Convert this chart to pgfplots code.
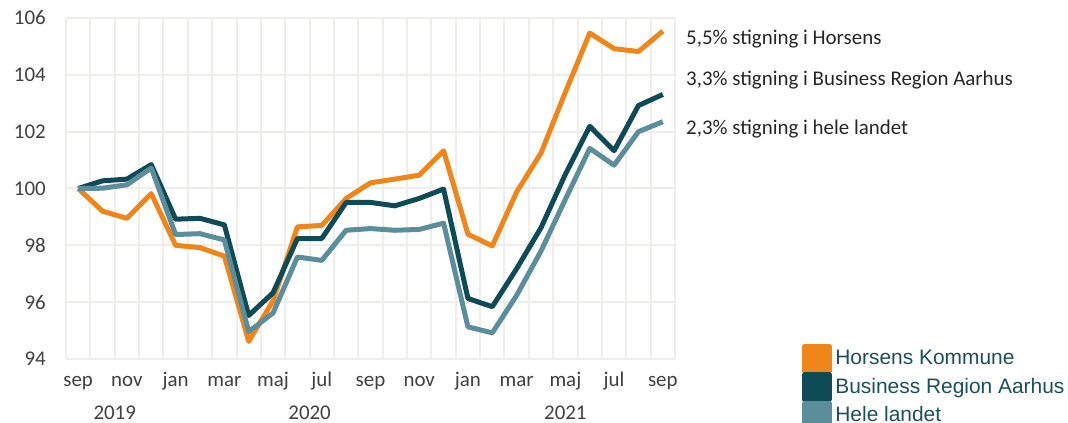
\documentclass[border=0pt]{standalone}
\usepackage{fontspec}
\setmainfont{Carlito}
\newfontfamily\legendfont{Liberation Sans}
\usepackage{pgfplots}
\pgfplotsset{compat=1.18}
\usetikzlibrary{calc}
\definecolor{horsens}{HTML}{F0861A}
\definecolor{bra}{HTML}{0F4A57}
\definecolor{hele}{HTML}{5B8E9A}
\definecolor{gridc}{HTML}{EFEEEA}
\definecolor{legtext}{HTML}{1C4F5C}
\definecolor{lab}{HTML}{404040}
\definecolor{ann}{HTML}{262626}
\begin{document}
\begin{tikzpicture}
\begin{axis}[
 scale only axis, width=609bp, height=341bp,
 xmin=-0.5, xmax=24.5, ymin=94, ymax=106,
 ytick={94,96,...,106},
 xtick={0,2,...,24},
 xticklabels={sep,nov,jan,mar,maj,jul,sep,nov,jan,mar,maj,jul,sep},
 minor xtick={-0.5,0.5,...,24.5},
 xminorgrids=true, xmajorgrids=false, ymajorgrids=true,
 grid style={draw=gridc, line width=2bp},
 minor grid style={draw=gridc, line width=2bp},
 major grid style={draw=gridc, line width=2bp},
 axis line style={draw=none},
 major tick length=0pt, minor tick length=0pt,
 tick style={draw=none},
 /pgf/number format/assume math mode=true,
 ticklabel style={font=\fontsize{21}{21}\selectfont, text=lab, inner sep=0pt},
 xticklabel style={anchor=base, yshift=-27bp},
 yticklabel style={anchor=east, xshift=-20bp},
 clip=false,
 legend style={at={(axis description cs:1.2090,0.0440)}, anchor=north west,
   draw=none, fill=none, inner sep=0pt, outer sep=0pt,
   font=\legendfont\fontsize{21}{21}\selectfont, text=legtext,
   row sep=-1.3bp, column sep=3.7bp,
   nodes={inner sep=0pt, text height=15bp, text depth=3bp}},
 legend cell align=left,
 legend image code/.code={\fill[#1] (0bp,-12.3bp) rectangle (24.4bp,12.3bp);},
]
\addplot[horsens, line width=5bp, line join=round] coordinates {
(0,100) (1,99.2) (2,98.95) (3,99.82) (4,98.0) (5,97.92) (6,97.62) (7,94.62) (8,96.05) (9,98.65) (10,98.7) (11,99.65) (12,100.2) (13,100.33) (14,100.47) (15,101.33) (16,98.39) (17,97.98) (18,99.88) (19,101.25) (20,103.39) (21,105.47) (22,104.92) (23,104.82) (24,105.54)};
\addlegendentry{Horsens Kommune}
\addplot[bra, line width=5bp, line join=round] coordinates {
(0,100) (1,100.27) (2,100.33) (3,100.84) (4,98.92) (5,98.95) (6,98.72) (7,95.53) (8,96.33) (9,98.24) (10,98.24) (11,99.51) (12,99.51) (13,99.39) (14,99.65) (15,99.98) (16,96.13) (17,95.84) (18,97.18) (19,98.62) (20,100.5) (21,102.19) (22,101.33) (23,102.92) (24,103.31)};
\addlegendentry{Business Region Aarhus}
\addplot[hele, line width=5bp, line join=round] coordinates {
(0,100) (1,100.01) (2,100.13) (3,100.72) (4,98.38) (5,98.41) (6,98.19) (7,94.96) (8,95.62) (9,97.59) (10,97.47) (11,98.53) (12,98.59) (13,98.53) (14,98.56) (15,98.78) (16,95.13) (17,94.92) (18,96.24) (19,97.8) (20,99.62) (21,101.41) (22,100.82) (23,102.0) (24,102.35)};
\addlegendentry{Hele landet}
\coordinate (bl) at (rel axis cs:0,0);
\begin{scope}[every node/.style={font=\fontsize{21}{21}\selectfont, text=lab, inner sep=0pt}]
\node[anchor=base] at (axis cs:1.5,94) [yshift=-60bp] {2019};
\node[anchor=base] at (axis cs:9.5,94) [yshift=-60bp] {2020};
\node[anchor=base] at (axis cs:20,94) [yshift=-60bp] {2021};
\end{scope}
\begin{scope}[every node/.style={font=\fontsize{21}{21}\selectfont, text=ann, inner sep=0pt, anchor=base west}]
\node at (axis description cs:1.0181,0.9229) {5,5\% stigning i Horsens};
\node at (axis description cs:1.0181,0.8015) {3,3\% stigning i Business Region Aarhus};
\node at (axis description cs:1.0181,0.6569) {2,3\% stigning i hele landet};
\end{scope}
\end{axis}
\pgfresetboundingbox
\useasboundingbox ($(bl)+(-66bp,-64bp)$) rectangle ($(bl)+(1002bp,359bp)$);
\end{tikzpicture}
\end{document}
